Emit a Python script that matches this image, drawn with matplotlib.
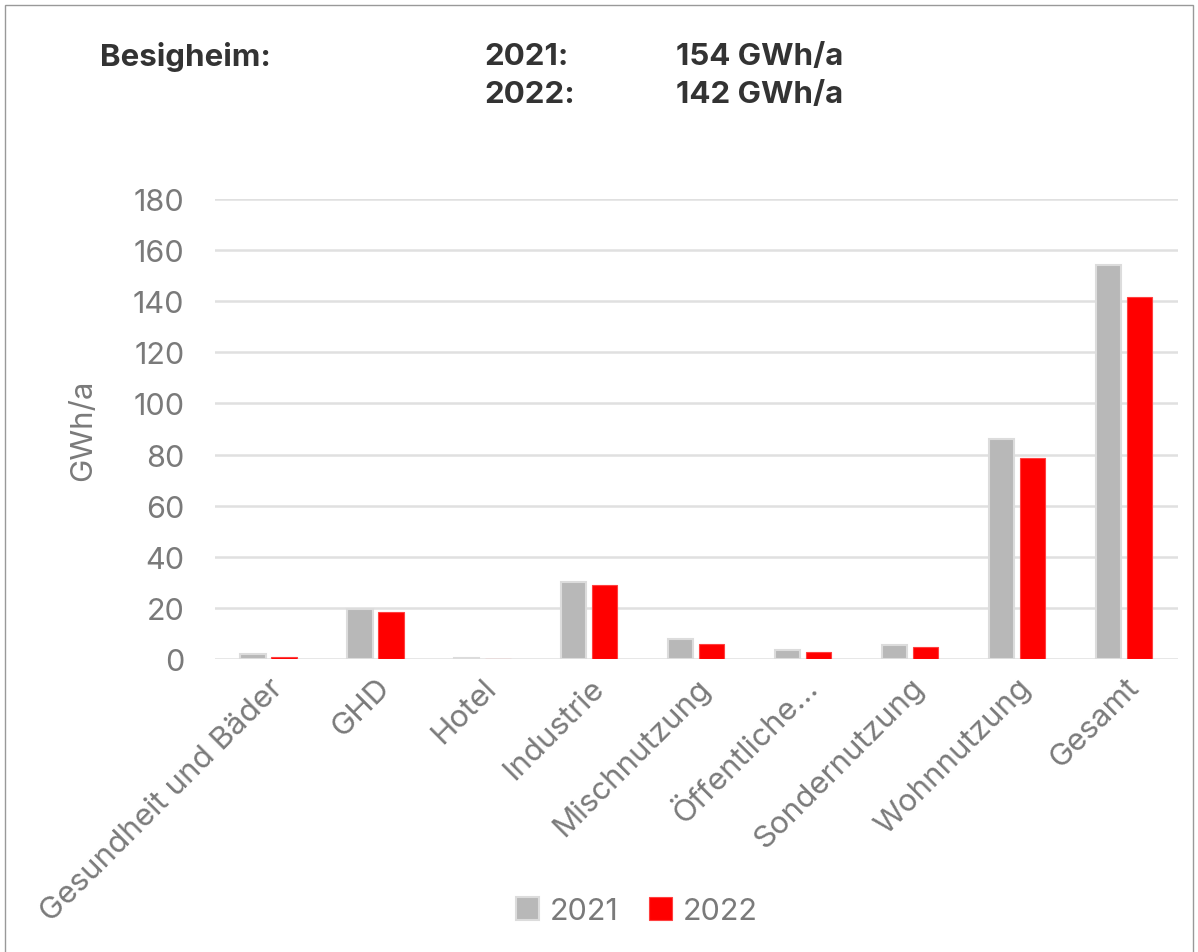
import matplotlib.pyplot as plt
import numpy as np
from matplotlib.patches import Rectangle

plt.rcParams['font.family'] = ['Inter', 'DejaVu Sans']

# data
categories = ['Gesundheit und Bäder', 'GHD', 'Hotel', 'Industrie', 'Mischnutzung',
              'Öffentliche...', 'Sondernutzung', 'Wohnnutzung', 'Gesamt']
vals_2021 = [1.8, 19.6, 0.3, 30.1, 7.8, 3.5, 5.3, 86.0, 154.4]
vals_2022 = [0.8, 18.4, 0.0, 29.0, 5.9, 2.9, 4.6, 78.5, 141.7]
years = ['2021', '2022']
totals = ['154 GWh/a', '142 GWh/a']

grey = '#7a7a7a'

fig = plt.figure(figsize=(11.98, 9.53), dpi=100)
ax = fig.add_axes([0.1795, 0.3075, 0.8035, 0.4825])

x = np.arange(len(categories))
w = 0.235
ax.bar(x - 0.145, vals_2021, w, color='#b8b8b8', edgecolor='#dcdcdc', linewidth=1.5,
       label=years[0], zorder=3)
ax.bar(x + 0.145, vals_2022, w, color='#ff0000', edgecolor='#ff4040', linewidth=0.8,
       label=years[1], zorder=3)

ax.set_xlim(-0.5, len(categories) - 0.5)
ax.set_ylim(0, 180)
ax.set_yticks(range(0, 181, 20))
ax.grid(axis='y', color='#e0e0e0', linewidth=1.8, zorder=0)
for s in ax.spines.values():
    s.set_visible(False)
ax.tick_params(axis='both', length=0, labelsize=22, labelcolor=grey)
ax.tick_params(axis='y', pad=22)
ax.set_xticks(x)
ax.set_xticklabels(categories, rotation=45, ha='right', rotation_mode='anchor',
                   fontsize=22.5)
ax.tick_params(axis='x', pad=10)
ax.set_ylabel('GWh/a', fontsize=22.5, color=grey, labelpad=26)

leg = fig.legend(loc='center', bbox_to_anchor=(637 / 1198, 1 - 912 / 953), ncol=2,
                 frameon=False, fontsize=22, labelcolor=grey, handlelength=0.75,
                 handleheight=0.75, handletextpad=0.35, columnspacing=1.0)

# header text
hdr = dict(fontsize=22.5, fontweight='bold', color='#333333', va='center')
fig.text(100 / 1198, 1 - 57 / 953, 'Besigheim:', **hdr)
for i, (yr, tot) in enumerate(zip(years, totals)):
    yy = 1 - (57 + 38 * i) / 953
    fig.text(484 / 1198, yy, yr + ':', **hdr)
    fig.text(676 / 1198, yy, tot, **hdr)

# figure frame
fig.patches.append(Rectangle((0.004, -0.01), 0.992, 1.004, transform=fig.transFigure,
                             fill=False, edgecolor='#999999', linewidth=1))

fig.savefig('out.png', dpi=100)
